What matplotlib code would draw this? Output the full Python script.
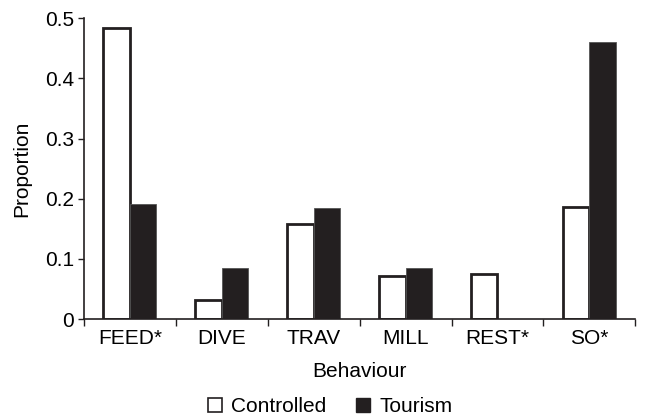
import numpy as np
import matplotlib
matplotlib.use("Agg")
import matplotlib.pyplot as plt
from matplotlib.patches import Patch

plt.rcParams['font.family'] = ['Liberation Sans', 'DejaVu Sans']

behaviours = ['FEED*', 'DIVE', 'TRAV', 'MILL', 'REST*', 'SO*']
controlled = [0.484, 0.031, 0.158, 0.072, 0.075, 0.187]
tourism = [0.192, 0.085, 0.185, 0.085, 0.0, 0.460]
yticks = [0, 0.1, 0.2, 0.3, 0.4, 0.5]
ytick_labels = ['0', '0.1', '0.2', '0.3', '0.4', '0.5']

dark = '#231f20'
fs = 15

fig = plt.figure(figsize=(6.45, 4.15), dpi=100)
ax = fig.add_axes([0.130, 0.231, 0.855, 0.725])

x = np.arange(len(behaviours))
w = 0.29
ax.bar(x - w / 2, controlled, w, color='white', edgecolor=dark, linewidth=2.0, zorder=2)
ax.bar(x + w / 2, tourism, w, color=dark, edgecolor='#555555', linewidth=0.6, zorder=2)

ax.set_xlim(-0.5, len(behaviours) - 0.5)
ax.set_ylim(0, 0.5)
ax.set_yticks(yticks)
ax.set_yticklabels(ytick_labels, fontsize=fs)

# ticks sit on category boundaries, labels at centres
ax.set_xticks(np.arange(-0.5, len(behaviours)), minor=False)
ax.set_xticklabels([])
ax.set_xticks(x, minor=True)
ax.set_xticklabels(behaviours, minor=True, fontsize=fs)
ax.tick_params(axis='x', which='major', length=5, width=1, color=dark, direction='out')
ax.tick_params(axis='x', which='minor', length=0, pad=7)
ax.tick_params(axis='y', length=4, width=1, color=dark, pad=3)

for s in ['top', 'right']:
    ax.spines[s].set_visible(False)
for s in ['left', 'bottom']:
    ax.spines[s].set_linewidth(1.2)
    ax.spines[s].set_color(dark)

ax.set_xlabel('Behaviour', fontsize=fs, labelpad=10)
ax.set_ylabel('Proportion', fontsize=fs, labelpad=10)

handles = [Patch(facecolor='white', edgecolor=dark, linewidth=1.2, label='Controlled'),
           Patch(facecolor=dark, edgecolor=dark, label='Tourism')]
fig.legend(handles=handles, loc='center', bbox_to_anchor=(0.512, 0.02), ncol=2,
           frameon=False, fontsize=fs, handlelength=0.7, handleheight=0.7,
           handletextpad=0.45, columnspacing=1.4)

fig.savefig('out.png', dpi=100)
